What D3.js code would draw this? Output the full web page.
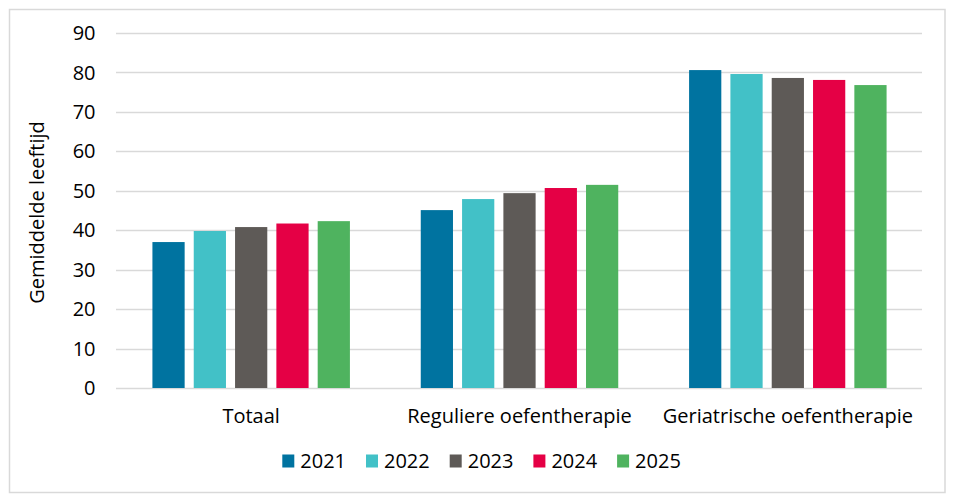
<!DOCTYPE html>
<html><head><meta charset="utf-8">
<script src="https://cdn.jsdelivr.net/npm/d3@7/dist/d3.min.js"></script>
<style>
html,body{margin:0;padding:0;background:#fff;}
text{font-family:"Open Sans","Noto Sans",sans-serif;fill:#000;}
</style></head>
<body>
<svg id="chart" width="953" height="504"></svg>
<script>
const categories = ["Totaal", "Reguliere oefentherapie", "Geriatrische oefentherapie"];
const years = ["2021", "2022", "2023", "2024", "2025"];
const colors = ["#0073A0", "#42C1C7", "#5E5A57", "#E50045", "#4FB35F"];
const v2021 = [37.0, 45.1, 80.6];
const v2022 = [39.8, 47.9, 79.6];
const v2023 = [40.8, 49.4, 78.6];
const v2024 = [41.7, 50.7, 78.1];
const v2025 = [42.3, 51.5, 76.8];
const seriesValues = [v2021, v2022, v2023, v2024, v2025];
const yTicks = [0, 10, 20, 30, 40, 50, 60, 70, 80, 90];
const yLabel = "Gemiddelde leeftijd";

const svg = d3.select("#chart");
svg.append("rect").attr("x", 9.5).attr("y", 9.5).attr("width", 935.5).attr("height", 483)
  .attr("fill", "#fff").attr("stroke", "#D9D9D9").attr("stroke-width", 1.5);

const pLeft = 117, pRight = 922, pTop = 33, pBottom = 388;
const x0 = d3.scaleBand().domain(categories).range([pLeft, pRight]).padding(0);
const bw = x0.bandwidth();
const x1 = d3.scaleBand().domain(years).range([bw * 0.132, bw * 0.868]).paddingInner(0.22).paddingOuter(0);
const y = d3.scaleLinear().domain([0, 90]).range([pBottom, pTop]);
const fs = "20px";

// gridlines
svg.append("g").selectAll("line").data(yTicks).join("line")
  .attr("x1", pLeft - 1).attr("x2", pRight).attr("y1", d => Math.round(y(d)) + 0.5).attr("y2", d => Math.round(y(d)) + 0.5)
  .attr("stroke", "#D9D9D9").attr("stroke-width", 1.5);

// y axis labels
const yAxis = d3.axisLeft(y).tickValues(yTicks).tickSize(0).tickPadding(0);
const yg = svg.append("g").attr("transform", `translate(95.5,0)`).call(yAxis);
yg.select(".domain").remove();
yg.selectAll("text").style("font-size", fs).attr("fill", "#000").attr("dy", "0.33em");

// bars
const groups = svg.append("g").selectAll("g").data(categories).join("g")
  .attr("transform", d => `translate(${x0(d)},0)`);
groups.selectAll("rect").data((c, ci) => years.map((yr, si) => ({yr, si, v: seriesValues[si][ci]}))).join("rect")
  .attr("x", d => x1(d.yr)).attr("width", x1.bandwidth())
  .attr("y", d => y(d.v)).attr("height", d => y(0) - y(d.v))
  .attr("fill", d => colors[d.si]);

// x axis labels
const xAxis = d3.axisBottom(x0).tickSize(0).tickPadding(0);
const xg = svg.append("g").attr("transform", `translate(0,${pBottom})`).call(xAxis);
xg.select(".domain").remove();
xg.selectAll("text").style("font-size", fs).attr("fill", "#000").attr("y", 35).attr("dy", 0);

// y label
svg.append("text").attr("transform", `translate(43.5,212.5) rotate(-90)`).attr("text-anchor", "middle")
  .style("font-size", fs).text(yLabel);

// legend
const leg = svg.append("g").selectAll("g").data(years).join("g")
  .attr("transform", (d, i) => `translate(${282.3 + i * 83.7},454.5)`);
leg.append("rect").attr("width", 12).attr("height", 13).attr("fill", (d, i) => colors[i]);
leg.append("text").attr("x", 18).attr("y", 13).style("font-size", fs).text(d => d);
</script>
</body></html>
